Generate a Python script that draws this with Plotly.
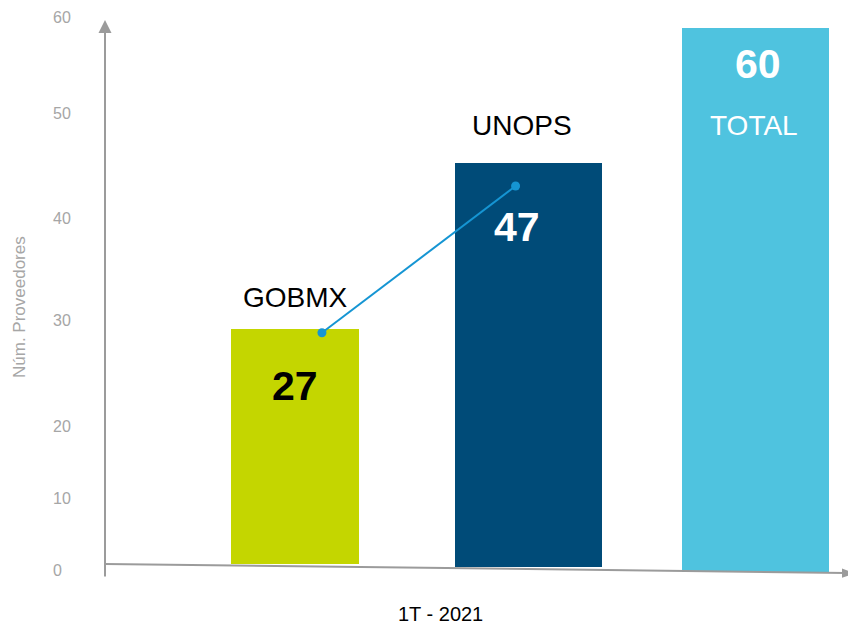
import plotly.graph_objects as go

# ---------------- data ----------------
categories = ["GOBMX", "UNOPS", "TOTAL"]
value_labels = [27, 47, 60]            # numbers printed on the bars
bar_tops = [26.2, 44.2, 58.8]          # bar heights (axis units)
bar_bases = [0.76, 0.43, -0.11]        # slanted baseline under each bar
tick_labels = ["0", "10", "20", "30", "40", "50", "60"]
tick_values = [0.1, 7.8, 15.6, 27.1, 38.2, 49.5, 60.0]
trend_x = [0.117, 0.958]               # connector GOBMX -> UNOPS
trend_y = [25.8, 41.7]
x_label = "1T - 2021"
y_title = "Núm. Proveedores"

# ---------------- styling ----------------
OFF = 0                      # page body margin (removed by post_script)
W, H = 848 - OFF, 625 - OFF
colors = ["#c4d600", "#004b78", "#4fc3df"]
bar_offsets = [-0.278, -0.305, -0.319]
bar_widths = [0.556, 0.637, 0.638]
name_pos = [(0.0, 29.6, "black"), (0.987, 48.3, "black"), (1.994, 48.3, "white")]
value_pos = [(0.0, 20.0, "black"), (0.966, 37.3, "white"), (2.011, 54.9, "white")]
FONT = "Arial, Liberation Sans, sans-serif"
AXIS = "#9b9b9b"
TICK = "#a6a6a6"

# window-pixel <-> data mapping (margins are zero)
px_per_x = 230.25
x0_px = 295.0 - OFF
px_per_y = 9.233
y0_px = 571.0 - OFF
x_range = [(0 - x0_px) / px_per_x, (W - x0_px) / px_per_x]
y_range = [(y0_px - H) / px_per_y, (y0_px - 0) / px_per_y]

def px(xp):
    return (xp - OFF) / W

def py(yp):
    return 1 - (yp - OFF) / H

x_pos = list(range(len(categories)))

fig = go.Figure()
fig.add_trace(go.Bar(
    x=x_pos,
    y=[t - b for t, b in zip(bar_tops, bar_bases)],
    base=bar_bases,
    offset=bar_offsets,
    width=bar_widths,
    marker=dict(color=colors, line=dict(width=0)),
    hoverinfo="skip",
    showlegend=False,
))
fig.add_trace(go.Scatter(
    x=trend_x, y=trend_y, mode="lines+markers",
    line=dict(color="#1595d3", width=2),
    marker=dict(color="#1595d3", size=9),
    hoverinfo="skip", showlegend=False,
))

annotations = []
# category names
for cat, (xx, yy, col) in zip(categories, name_pos):
    annotations.append(dict(x=xx, y=yy, xref="x", yref="y", text=cat, showarrow=False,
                            xanchor="center", yanchor="middle",
                            font=dict(family=FONT, size=28, color=col)))
# values
for val, (xx, yy, col) in zip(value_labels, value_pos):
    annotations.append(dict(x=xx, y=yy, xref="x", yref="y", text=f"<b>{val}</b>", showarrow=False,
                            xanchor="center", yanchor="middle",
                            font=dict(family=FONT, size=41, color=col)))
# tick labels
for lab, v in zip(tick_labels, tick_values):
    annotations.append(dict(x=px(51), y=v, xref="paper", yref="y", text=lab, showarrow=False,
                            xanchor="left", yanchor="middle",
                            font=dict(family=FONT, size=16, color=TICK)))
# y title
annotations.append(dict(x=px(19), y=py(307), xref="paper", yref="paper", text=y_title,
                        textangle=-90, showarrow=False, xanchor="center", yanchor="middle",
                        font=dict(family=FONT, size=17, color=TICK)))
# x label
annotations.append(dict(x=px(441), y=py(614), xref="paper", yref="paper", text=x_label,
                        showarrow=False, xanchor="center", yanchor="middle", borderpad=0,
                        font=dict(family=FONT, size=20, color="black")))
# y axis arrow
annotations.append(dict(x=px(105), y=py(20), xref="paper", yref="paper", text="",
                        showarrow=True, axref="pixel", ayref="pixel", ax=0, ay=558,
                        arrowhead=2, arrowsize=1.3, arrowwidth=2, arrowcolor=AXIS, standoff=0))

# x axis: slanted line + arrowhead that runs past the right edge
tip_x, tip_y = 855.0, 573.2
shapes = [
    dict(type="line", xref="paper", yref="paper",
         x0=px(105), y0=py(564), x1=px(846), y1=py(572.9),
         line=dict(color=AXIS, width=2), layer="above"),
    dict(type="path", xref="paper", yref="paper", layer="above",
         path=f"M {px(tip_x)} {py(tip_y)} L {px(tip_x - 13)} {py(tip_y - 4.6)} "
              f"L {px(tip_x - 13)} {py(tip_y + 4.6)} Z",
         fillcolor=AXIS, line=dict(width=0)),
]

fig.update_layout(
    width=W, height=H, autosize=False,
    margin=dict(l=0, r=0, t=0, b=0),
    paper_bgcolor="white", plot_bgcolor="white",
    xaxis=dict(range=x_range, visible=False, fixedrange=True),
    yaxis=dict(range=y_range, visible=False, fixedrange=True),
    annotations=annotations,
    shapes=shapes,
    bargap=0,
)

fig.write_html(
    "out.html",
    config={"displayModeBar": False},
    post_script="document.body.style.margin='0';document.body.style.overflow='hidden';",
)
